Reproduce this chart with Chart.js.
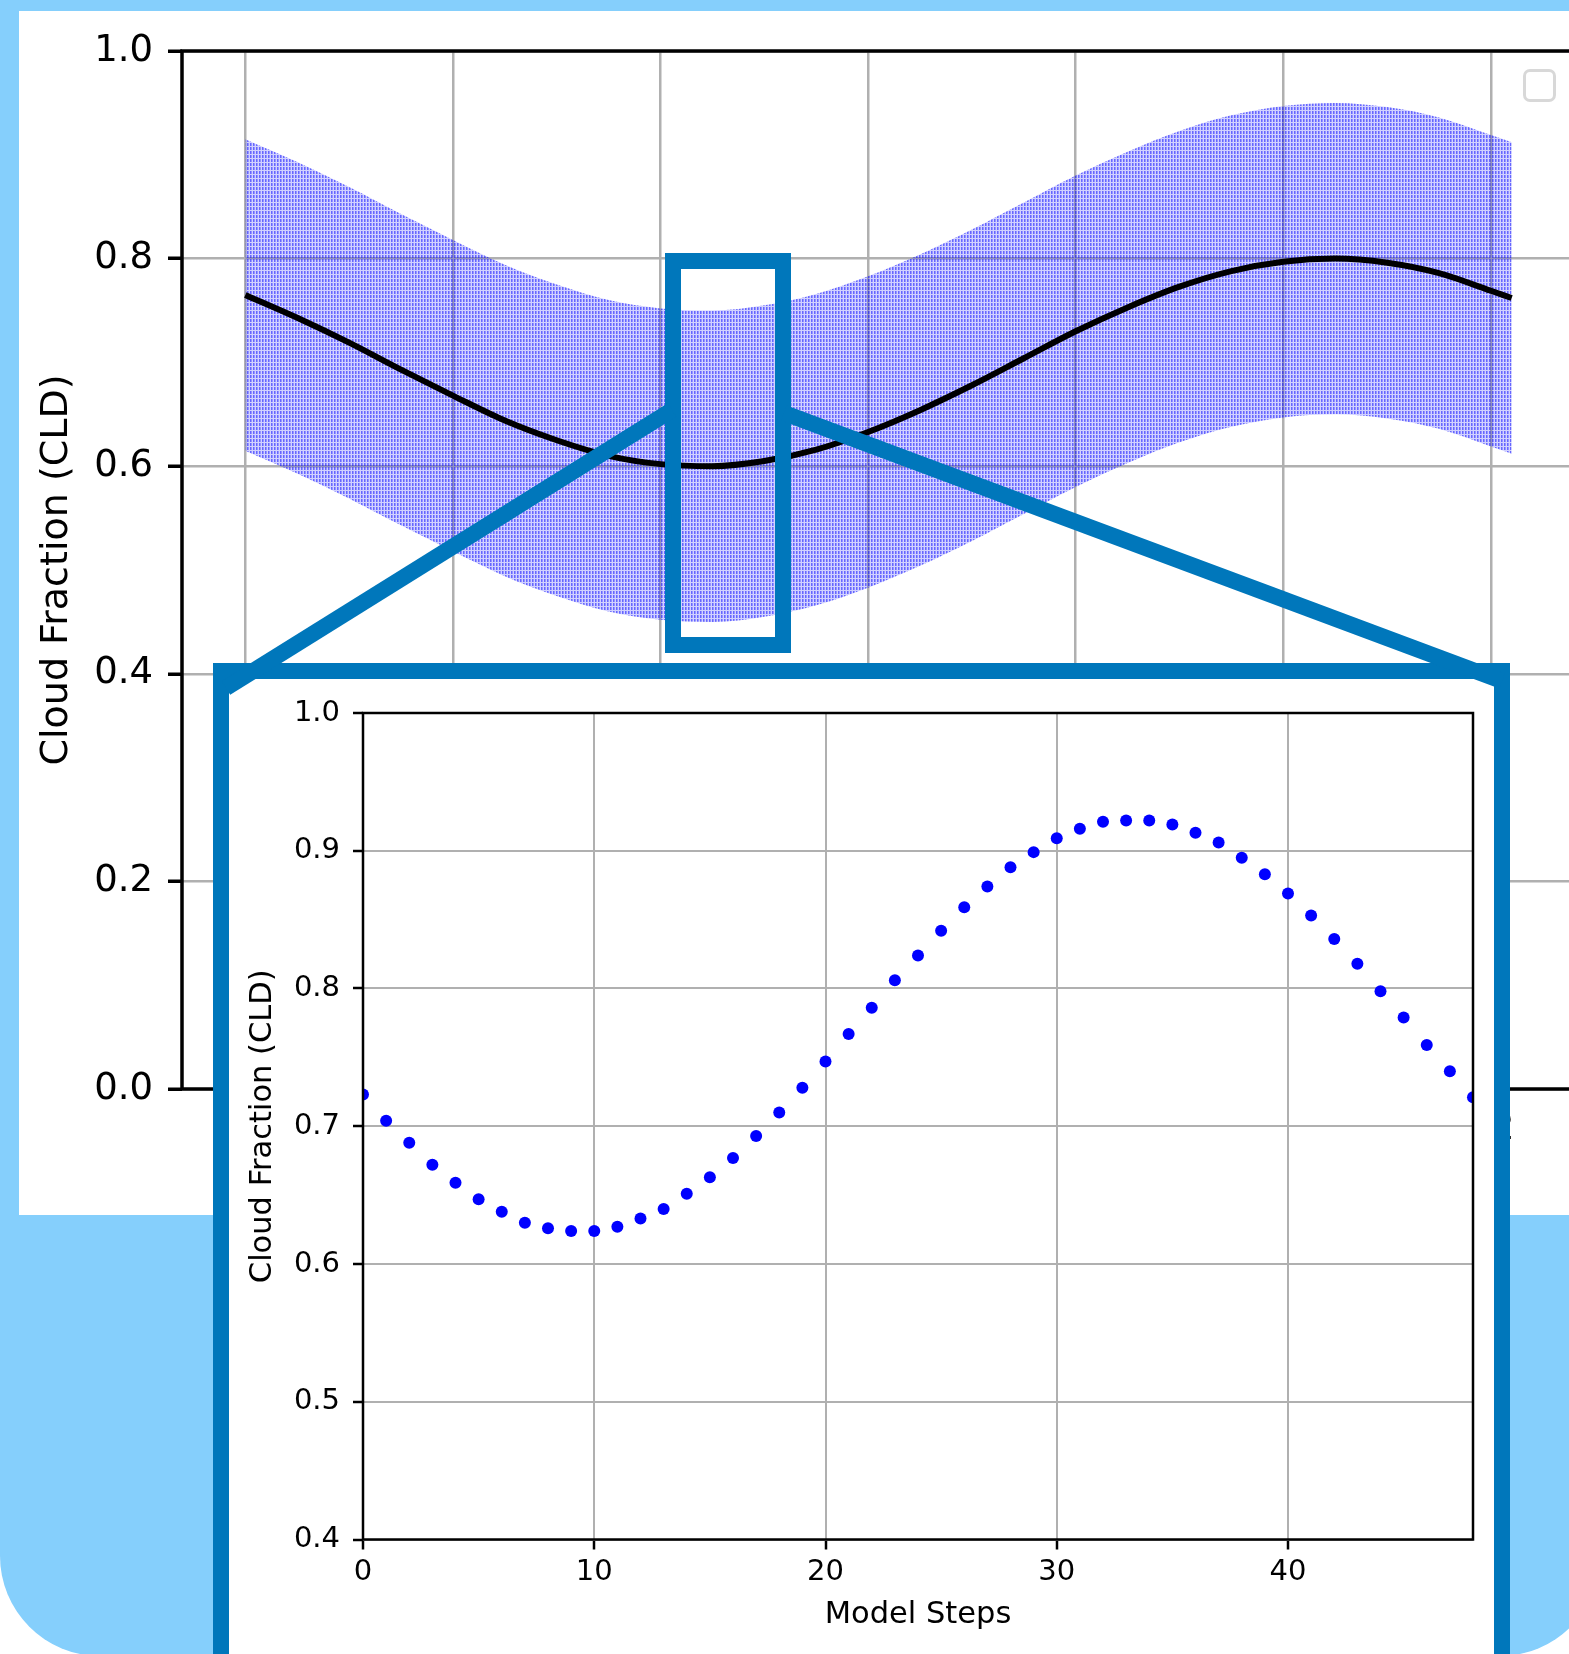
<!DOCTYPE html>
<html>
<head>
<meta charset="utf-8">
<script src="https://cdn.jsdelivr.net/npm/chart.js@4.4.0/dist/chart.umd.min.js"></script>
<style>
  html, body { margin: 0; padding: 0; background: #fff; overflow: hidden; }
  body { position: relative; width: 1569px; height: 1654px; font-family: "DejaVu Sans", sans-serif; }
  #backdrop { position: absolute; left: 0; top: 0; width: 1600px; height: 1656px; background: #85cffc;
              border-bottom-left-radius: 100px; border-bottom-right-radius: 100px; }
  #panel { position: absolute; left: 19px; top: 11px; width: 1600px; height: 1204px; background: #fff; }
  #legendBox { position: absolute; left: 1523px; top: 69px; width: 27px; height: 27px;
               border: 3px solid #d8d8d8; border-radius: 7px; background: #fff; }
  #inset { position: absolute; left: 213px; top: 663px; width: 1265px; height: 1000px;
           border: 16px solid #0077bb; background: #fff; }
  #insetChart { position: absolute; left: 0; top: 0; }
  #overlay { position: absolute; left: 0; top: 0; pointer-events: none; }
</style>
</head>
<body>
<div id="backdrop"></div>
<div id="panel"><canvas id="mainChart" width="1600" height="1204"></canvas></div>
<div id="legendBox"></div>
<div id="inset"><canvas id="insetChart" width="1265" height="975"></canvas></div>
<svg id="overlay" width="1569" height="1654">
  <rect x="673" y="261" width="110" height="384" fill="none" stroke="#0077bb" stroke-width="16"/>
  <line x1="672" y1="410" x2="226" y2="688" stroke="#0077bb" stroke-width="16"/>
  <line x1="784" y1="413" x2="1502" y2="681" stroke="#0077bb" stroke-width="16"/>
</svg>
<script>
// main plot: mean cloud fraction with spread band
const hours = [0, 0.5, 1, 1.5, 2, 2.5, 3, 3.5, 4, 4.5, 5, 5.5, 6, 6.5, 7, 7.5, 8, 8.5, 9, 9.5, 10, 10.5, 11, 11.5, 12, 12.2];
const meanCld = [0.765, 0.743, 0.719, 0.693, 0.668, 0.644, 0.625, 0.610, 0.602, 0.600, 0.605, 0.616, 0.633,
                 0.654, 0.678, 0.704, 0.730, 0.753, 0.773, 0.788, 0.797, 0.800, 0.796, 0.786, 0.769, 0.762];
const upperCld = [0.915, 0.893, 0.869, 0.843, 0.818, 0.794, 0.775, 0.760, 0.752, 0.750, 0.755, 0.766, 0.783,
                  0.804, 0.828, 0.854, 0.880, 0.903, 0.923, 0.938, 0.947, 0.950, 0.946, 0.936, 0.919, 0.912];
const lowerCld = [0.615, 0.593, 0.569, 0.543, 0.518, 0.494, 0.475, 0.460, 0.452, 0.450, 0.455, 0.466, 0.483,
                  0.504, 0.528, 0.554, 0.580, 0.603, 0.623, 0.638, 0.647, 0.650, 0.646, 0.636, 0.619, 0.612];
const mainXTicks = [0, 2, 4, 6, 8, 10, 12];
const mainYTicks = [0, 0.2, 0.4, 0.6, 0.8, 1.0];

// inset: cloud fraction per model step
const steps = Array.from({ length: 49 }, (_, i) => i);
const stepCld = [0.723, 0.704, 0.688, 0.672, 0.659, 0.647, 0.638, 0.630, 0.626, 0.624, 0.624, 0.627, 0.633,
                 0.640, 0.651, 0.663, 0.677, 0.693, 0.710, 0.728, 0.747, 0.767, 0.786, 0.806, 0.824, 0.842,
                 0.859, 0.874, 0.888, 0.899, 0.909, 0.916, 0.921, 0.922, 0.922, 0.919, 0.913, 0.906, 0.895,
                 0.883, 0.869, 0.853, 0.836, 0.818, 0.798, 0.779, 0.759, 0.740, 0.721];
const insetXTicks = [0, 10, 20, 30, 40];
const insetYTicks = [0.4, 0.5, 0.6, 0.7, 0.8, 0.9, 1.0];

const GRID = '#b0b0b0';
const FONT = '"DejaVu Sans", sans-serif';

// draws all four axis spines like matplotlib
const spines = {
  id: 'spines',
  afterDraw(chart, args, opts) {
    const { ctx, chartArea: a } = chart;
    ctx.save();
    ctx.strokeStyle = '#000';
    ctx.lineWidth = opts.width;
    ctx.strokeRect(a.left, a.top, a.right - a.left, a.bottom - a.top);
    ctx.restore();
  }
};

function points(xs, ys) {
  return xs.map((x, i) => ({ x: x, y: ys[i] }));
}

// fine vertical hatch for the spread band
function hatch(ctx) {
  const c = document.createElement('canvas');
  c.width = 3; c.height = 4;
  const g = c.getContext('2d');
  g.fillStyle = 'rgba(0,0,255,0.6)';
  g.fillRect(0, 0, 1, 3);
  g.fillStyle = 'rgba(0,0,255,0.42)';
  g.fillRect(1, 0, 1, 3);
  g.fillStyle = 'rgba(0,0,255,0.18)';
  g.fillRect(2, 0, 1, 4);
  g.fillRect(0, 3, 2, 1);
  return ctx.createPattern(c, 'repeat');
}

const mainCtx = document.getElementById('mainChart').getContext('2d');
new Chart(mainCtx, {
  type: 'line',
  data: {
    datasets: [
      { data: points(hours, meanCld), borderColor: '#000', borderWidth: 6, pointRadius: 0, fill: false,
        cubicInterpolationMode: 'monotone' },
      { data: points(hours, lowerCld), borderWidth: 0, pointRadius: 0, fill: false,
        cubicInterpolationMode: 'monotone' },
      { data: points(hours, upperCld), borderWidth: 0, pointRadius: 0, fill: '-1',
        backgroundColor: hatch(mainCtx), cubicInterpolationMode: 'monotone' }
    ]
  },
  options: {
    responsive: false,
    animation: false,
    layout: { padding: { left: 0, top: 40, right: 44, bottom: 0 } },
    plugins: { legend: { display: false }, tooltip: { enabled: false }, spines: { width: 3.5 } },
    scales: {
      x: {
        type: 'linear', min: -0.61, max: 12.81,
        afterBuildTicks: s => { s.ticks = mainXTicks.map(v => ({ value: v })); },
        afterFit: s => { s.height = 126; },
        grid: { color: GRID, lineWidth: 2.5, tickColor: '#000', tickWidth: 3.5, tickLength: 14 },
        border: { display: false },
        ticks: { color: '#000', padding: 4, font: { family: FONT, size: 37 }, callback: v => String(v) }
      },
      y: {
        min: 0, max: 1,
        afterBuildTicks: s => { s.ticks = mainYTicks.map(v => ({ value: v })); },
        afterFit: s => { s.width = 163; },
        grid: { color: GRID, lineWidth: 2.5, tickColor: '#000', tickWidth: 3.5, tickLength: 14 },
        border: { display: false },
        ticks: { color: '#000', padding: 15, font: { family: FONT, size: 37 }, callback: v => v.toFixed(1) },
        title: { display: true, text: 'Cloud Fraction (CLD)', color: '#000',
                 font: { family: FONT, size: 38 }, padding: { top: 15, bottom: 0 } }
      }
    }
  },
  plugins: [spines]
});

const insetCtx = document.getElementById('insetChart').getContext('2d');
new Chart(insetCtx, {
  type: 'scatter',
  data: {
    datasets: [{
      data: points(steps, stepCld),
      pointRadius: 6, pointBackgroundColor: '#0000ff', pointBorderWidth: 0, borderWidth: 0,
      showLine: false, clip: 0
    }]
  },
  options: {
    responsive: false,
    animation: false,
    layout: { padding: { left: 0, top: 34, right: 21, bottom: 0 } },
    plugins: { legend: { display: false }, tooltip: { enabled: false }, spines: { width: 2.5 } },
    scales: {
      x: {
        type: 'linear', min: 0, max: 48,
        afterBuildTicks: s => { s.ticks = insetXTicks.map(v => ({ value: v })); },
        afterFit: s => { s.height = 114.5; },
        grid: { color: GRID, lineWidth: 2, tickColor: '#000', tickWidth: 2.5, tickLength: 10 },
        border: { display: false },
        ticks: { color: '#000', padding: 6, font: { family: FONT, size: 29 }, callback: v => String(v) },
        title: { display: true, text: 'Model Steps', color: '#000',
                 font: { family: FONT, size: 30.5 }, padding: { top: 0, bottom: 21 } }
      },
      y: {
        min: 0.4, max: 1.0,
        afterBuildTicks: s => { s.ticks = insetYTicks.map(v => ({ value: v })); },
        afterFit: s => { s.width = 134; },
        grid: { color: GRID, lineWidth: 2, tickColor: '#000', tickWidth: 2.5, tickLength: 10 },
        border: { display: false },
        ticks: { color: '#000', padding: 13, font: { family: FONT, size: 29 }, callback: v => v.toFixed(1) },
        title: { display: true, text: 'Cloud Fraction (CLD)', color: '#000',
                 font: { family: FONT, size: 30.5 }, padding: { top: 16, bottom: 0 } }
      }
    }
  },
  plugins: [spines]
});
</script>
</body>
</html>
